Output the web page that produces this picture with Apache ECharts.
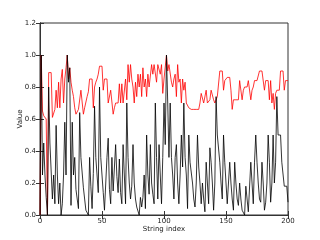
<!DOCTYPE html>
<html><head><meta charset="utf-8">
<script src="https://cdn.jsdelivr.net/npm/echarts@6/dist/echarts.min.js"></script>
<style>html,body{margin:0;padding:0;background:#fff}#c{width:320px;height:240px}</style>
</head><body><div id="c"></div>
<script>
const xTicks = [0, 50, 100, 150, 200];
const yTicks = [0.0, 0.2, 0.4, 0.6, 0.8, 1.0, 1.2];
const redValues = [
0,1.0,0.65,0.62,0.61,0.6,0.0,0.89,0.89,0.89,
0.61,0.62,0.66,0.78,0.67,0.83,0.67,0.85,0.91,0.7,
0.85,0.92,1.0,0.85,0.92,0.83,0.78,0.74,0.67,0.63,
0.63,0.66,0.67,0.78,0.78,0.63,0.67,0.66,0.74,0.77,
0.85,0.85,0.85,0.67,0.8,0.83,0.85,0.88,0.93,0.93,
0.93,0.78,0.85,0.85,0.85,0.7,0.7,0.78,0.78,0.63,
0.67,0.7,0.7,0.7,0.82,0.7,0.82,0.7,0.7,0.85,
0.72,0.94,0.83,0.94,0.85,0.8,0.7,0.83,0.74,0.88,
0.8,0.88,0.74,0.92,0.8,0.85,0.74,0.88,0.8,0.8,
0.94,0.88,0.94,0.94,0.83,0.94,0.94,0.88,0.94,0.76,
0.85,0.85,1.0,0.9,0.94,0.94,0.83,0.8,0.85,0.88,
0.74,0.94,0.83,0.85,0.7,0.85,0.78,0.83,0.7,0.7,
0.67,0.68,0.66,0.66,0.66,0.66,0.66,0.66,0.66,0.7,
0.76,0.76,0.7,0.7,0.78,0.7,0.7,0.72,0.78,0.78,
0.72,0.7,0.7,0.74,0.74,0.9,0.9,0.9,0.78,0.84,
0.84,0.86,0.86,0.86,0.78,0.66,0.72,0.72,0.72,0.72,
0.72,0.84,0.84,0.72,0.78,0.8,0.8,0.8,0.84,0.84,
0.72,0.78,0.8,0.84,0.84,0.84,0.84,0.9,0.9,0.9,
0.9,0.78,0.84,0.84,0.84,0.72,0.84,0.7,0.76,0.66,
0.76,0.78,0.78,0.78,0.9,0.9,0.9,0.78,0.84,0.84,
0.84];
const blackValues = [
0,1.0,0.25,0.45,0.25,0.11,0.0,0.8,0.45,0.45,
0.1,0.25,0.07,0.56,0.25,0.07,0.2,0.0,0.07,0.25,
0.58,0.25,1.0,0.83,0.92,0.06,0.58,0.25,0.36,0.16,
0.15,0.04,0.64,0.36,0.36,0.17,0.16,0.03,0.03,0.0,
0.36,0.18,0.04,0.26,0.68,0.36,0.36,0.14,0.8,0.36,
0.36,0.14,0.03,0.03,0.36,0.48,0.16,0.07,0.36,0.15,
0.16,0.44,0.24,0.14,0.35,0.14,0.07,0.44,0.25,0.07,
0.7,0.36,0.2,0.1,0.18,0.44,0.2,0.1,0.05,0.05,
0.0,0.11,0.05,0.11,0.25,0.04,0.5,0.25,0.13,0.44,
0.2,0.13,0.07,0.7,0.36,0.1,0.44,0.25,0.07,0.36,
0.7,0.44,1.0,0.7,0.36,0.7,0.36,0.25,0.1,0.36,
0.44,0.2,0.07,0.25,0.5,0.3,0.7,0.36,0.25,0.04,
0.5,0.33,0.33,0.2,0.1,0.05,0.2,0.5,0.3,0.2,
0.07,0.2,0.1,0.02,0.33,0.2,0.07,0.42,0.33,0.2,
0.03,0.2,0.74,0.5,0.5,0.33,0.2,0.1,0.5,0.33,
0.2,0.07,0.2,0.33,0.2,0.1,0.03,0.33,0.2,0.1,
0.06,0.2,0.1,0.03,0.02,0.0,0.18,0.1,0.02,0.02,
0.33,0.2,0.07,0.33,0.5,0.33,0.2,0.1,0.08,0.33,
0.2,0.03,0.08,0.2,0.5,0.33,0.08,0.2,0.5,0.2,
0.33,0.74,0.5,0.5,0.5,0.33,0.33,0.18,0.18,0.18,
0.08];

const toPairs = arr => arr.map((v, i) => [i, v]);
const font = 'DejaVu Sans';
const axisColor = '#333';
const tickStyle = {show: true, inside: true, length: 4, lineStyle: {color: axisColor, width: 1}};
const chart = echarts.init(document.getElementById('c'), null, {renderer: 'canvas'});
chart.setOption({
  animation: false,
  backgroundColor: '#fff',
  grid: {left: 40, right: 32, top: 23, bottom: 25, show: true, borderColor: axisColor, borderWidth: 1, backgroundColor: 'transparent'},
  xAxis: [{
    type: 'value', min: xTicks[0], max: xTicks[xTicks.length - 1], interval: 50,
    name: 'String index', nameLocation: 'middle', nameGap: 11, nameMoveOverlap: false,
    nameTextStyle: {fontFamily: font, fontSize: 7, color: '#222'},
    axisLine: {show: true, lineStyle: {color: axisColor, width: 1}},
    axisTick: tickStyle, splitLine: {show: false},
    axisLabel: {fontFamily: font, fontSize: 7, color: '#222', margin: 3}
  }, {
    type: 'value', position: 'top', min: 0, max: 200, interval: 50,
    axisLine: {show: true, lineStyle: {color: axisColor, width: 1}},
    axisTick: tickStyle, axisLabel: {show: false}, splitLine: {show: false}
  }],
  yAxis: [{
    type: 'value', min: yTicks[0], max: yTicks[yTicks.length - 1], interval: 0.2,
    name: 'Value', nameLocation: 'middle', nameGap: 16, nameRotate: 90, nameMoveOverlap: false,
    nameTextStyle: {fontFamily: font, fontSize: 7, color: '#222'},
    axisLine: {show: true, lineStyle: {color: axisColor, width: 1}},
    axisTick: tickStyle, splitLine: {show: false},
    axisLabel: {fontFamily: font, fontSize: 7, color: '#222', margin: 4, formatter: v => v.toFixed(1)}
  }, {
    type: 'value', position: 'right', min: 0, max: 1.2, interval: 0.2,
    axisLine: {show: true, lineStyle: {color: axisColor, width: 1}},
    axisTick: tickStyle, axisLabel: {show: false}, splitLine: {show: false}
  }],
  series: [{
    type: 'line', data: toPairs(redValues), showSymbol: false, symbol: 'none',
    lineStyle: {color: '#ff0000', width: 0.8}, itemStyle: {color: '#ff0000'}
  }, {
    type: 'line', data: toPairs(blackValues), showSymbol: false, symbol: 'none',
    lineStyle: {color: '#000000', width: 0.8}, itemStyle: {color: '#000'}
  }]
});
</script></body></html>
